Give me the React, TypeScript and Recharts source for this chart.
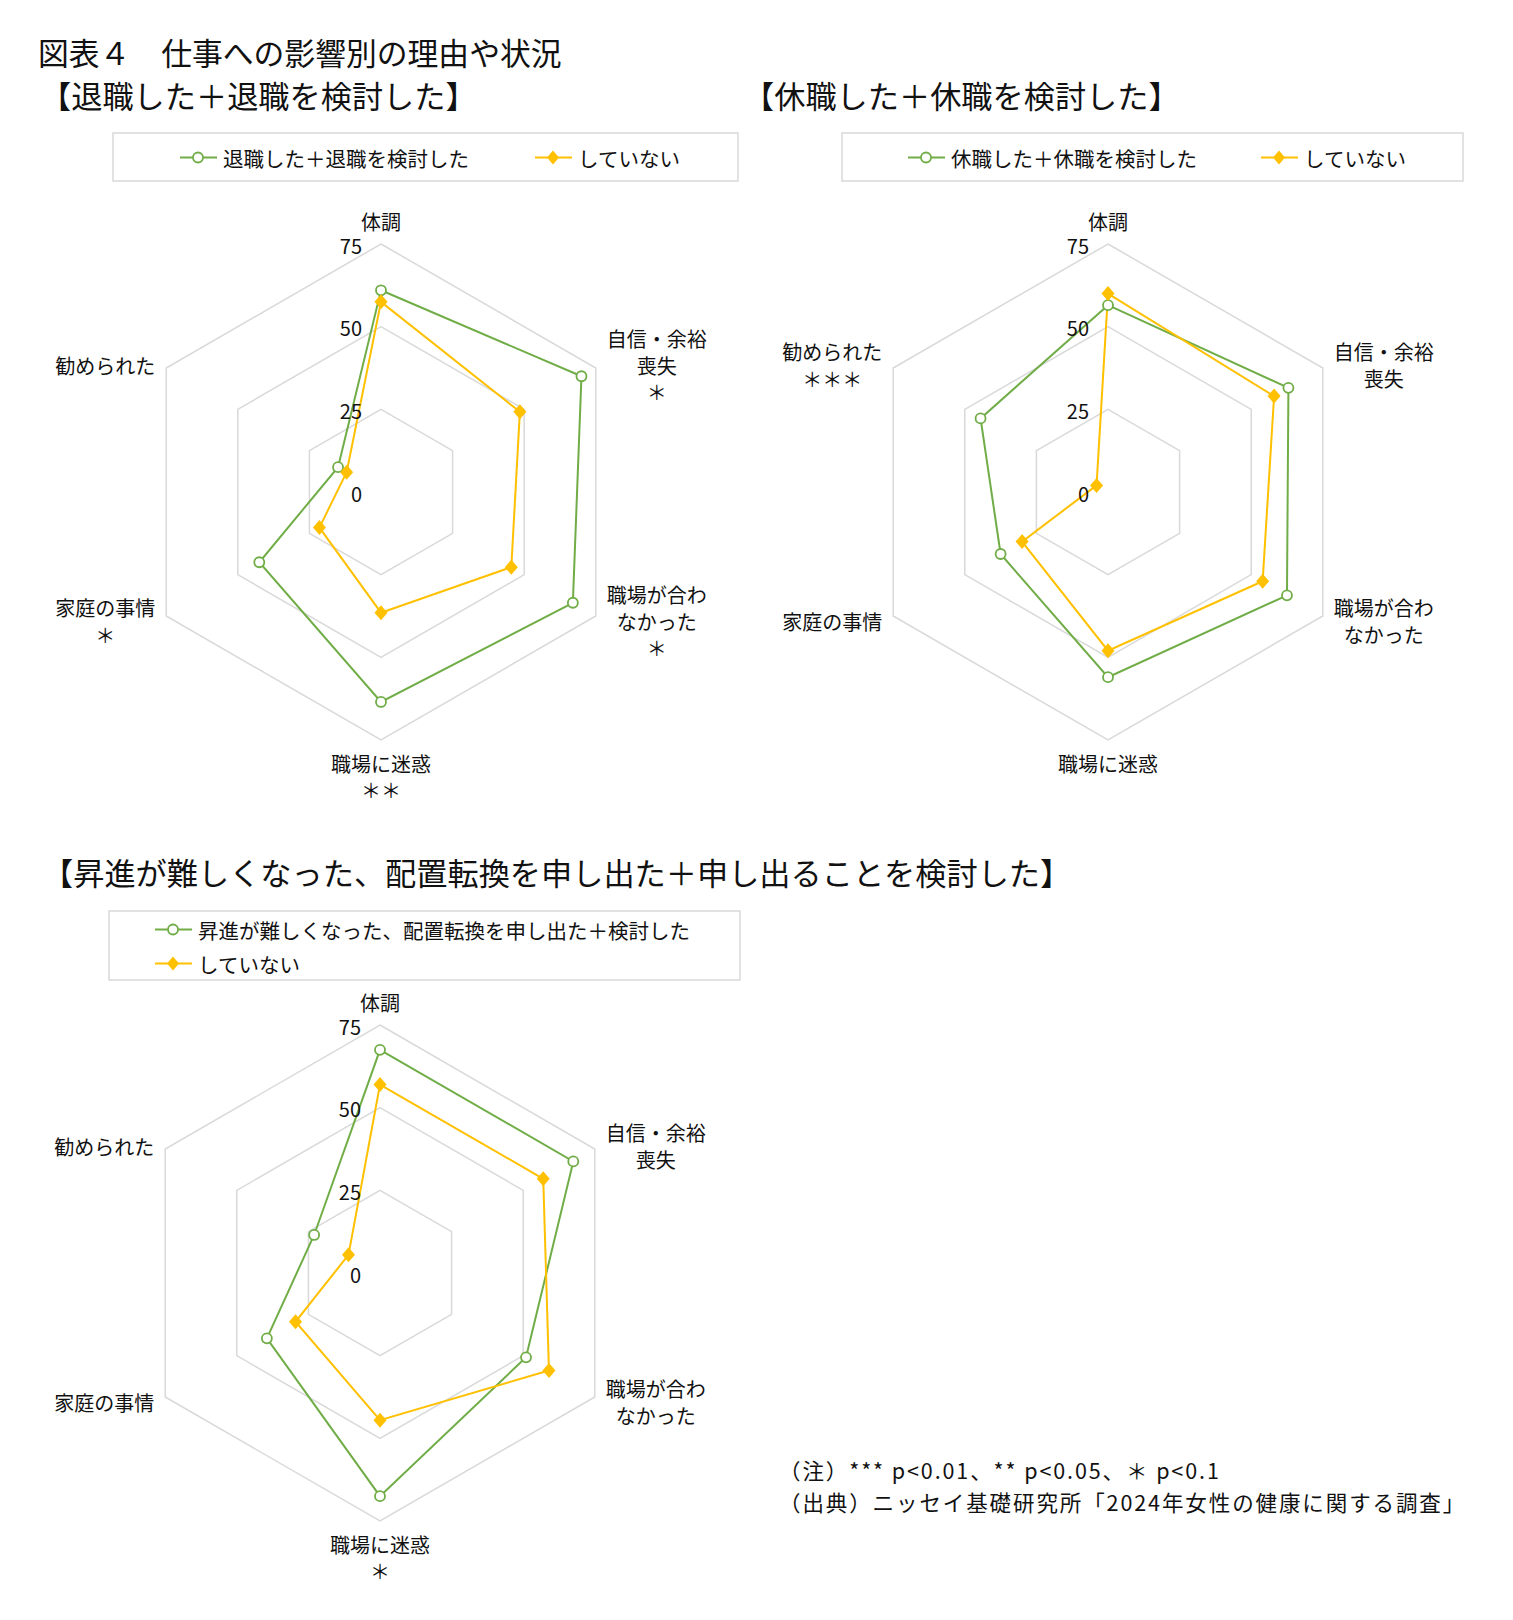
import React from "react";
import {
	RadarChart,
	Radar,
	PolarGrid,
	PolarAngleAxis,
	PolarRadiusAxis,
} from "recharts";

const GREEN = "#70AD47";
const GOLD = "#FFC000";
const GRID = "#D9D9D9";
const FONT = "'Noto Sans CJK JP', 'Noto Sans', sans-serif";

// axis categories, clockwise from the top
const categories = ["体調", "自信・余裕喪失", "職場が合わなかった", "職場に迷惑", "家庭の事情", "勧められた"];
const categoryLines = [
	["体調"],
	["自信・余裕", "喪失"],
	["職場が合わ", "なかった"],
	["職場に迷惑"],
	["家庭の事情"],
	["勧められた"],
];
const radiusTicks = [0, 25, 50, 75];
const noneLabel = "していない";

// 退職
const retireLabel = "退職した＋退職を検討した";
const retireYes = [61, 70, 67, 63.5, 42.5, 15];
const retireNo = [57.5, 48.5, 45.5, 36.5, 21.5, 12];
const retireStars = ["", "＊", "＊", "＊＊", "＊", ""];

// 休職
const leaveLabel = "休職した＋休職を検討した";
const leaveYes = [56.5, 63, 62.5, 56, 37.5, 44.5];
const leaveNo = [60, 58, 54, 48, 30, 4];
const leaveStars = ["", "", "", "", "", "＊＊＊"];

// 昇進・配置転換
const promoLabel = "昇進が難しくなった、配置転換を申し出た＋検討した";
const promoYes = [67.5, 67.5, 51, 67.5, 39.5, 23];
const promoNo = [57, 57, 59, 44.5, 29.5, 11];
const promoStars = ["", "", "", "＊", "", ""];

const notes = [
	"（注）*** p<0.01、** p<0.05、＊ p<0.1",
	"（出典）ニッセイ基礎研究所「2024年女性の健康に関する調査」",
];

const buildData = (yes: number[], no: number[]) =>
	categories.map((category, i) => ({ category, yes: yes[i], no: no[i] }));

const makeAngleTick = (stars: string[]) => (props: any) => {
	const { x, y, payload } = props;
	const i = categories.indexOf(payload.value);
	const lines = stars[i] ? [...categoryLines[i], stars[i]] : categoryLines[i];
	const step = 26.5;
	let tx = x;
	let firstY = y;
	if (i === 0) {
		firstY = y - 15 - (lines.length - 1) * step;
	} else if (i === 3) {
		firstY = y + 15;
	} else {
		tx = i < 3 ? x + 54 : x - 54;
		firstY = y + 1 - ((lines.length - 1) * step) / 2;
	}
	return (
		<g>
			{lines.map((line, k) => (
				<text
					key={k}
					x={tx}
					y={firstY + k * step}
					textAnchor="middle"
					dominantBaseline="central"
					fontSize={20}
					fontFamily={FONT}
					fill="#111"
				>
					{line}
				</text>
			))}
		</g>
	);
};

const radiusTick = (props: any) => (
	<text
		x={props.x - 19}
		y={props.y + 1}
		textAnchor="end"
		dominantBaseline="central"
		fontSize={20}
		fontFamily={FONT}
		fill="#111"
	>
		{props.payload.value}
	</text>
);

const circleDot = (props: any) => (
	<circle
		key={`c-${props.cx}-${props.cy}`}
		cx={props.cx}
		cy={props.cy}
		r={5}
		fill="#fff"
		stroke={GREEN}
		strokeWidth={1.8}
	/>
);

const diamondDot = (props: any) => (
	<path
		key={`d-${props.cx}-${props.cy}`}
		d={`M${props.cx},${props.cy - 7.5}L${props.cx + 6.5},${props.cy}L${props.cx},${props.cy + 7.5}L${props.cx - 6.5},${props.cy}Z`}
		fill={GOLD}
	/>
);

type RadarProps = {
	left: number;
	top: number;
	cx: number;
	cy: number;
	yes: number[];
	no: number[];
	yesName: string;
	stars: string[];
};

const Hexagon = ({ left, top, cx, cy, yes, no, yesName, stars }: RadarProps) => (
	<div style={{ position: "absolute", left, top }}>
		<RadarChart
			width={760}
			height={640}
			cx={cx}
			cy={cy}
			outerRadius={248}
			data={buildData(yes, no)}
			margin={{ top: 0, right: 0, bottom: 0, left: 0 }}
		>
			<PolarGrid gridType="polygon" radialLines={false} stroke={GRID} strokeWidth={1.5} />
			<PolarAngleAxis dataKey="category" tickLine={false} axisLine={false} tick={makeAngleTick(stars)} />
			<PolarRadiusAxis
				angle={90}
				type="number"
				domain={[0, 75]}
				ticks={radiusTicks as any}
				tickCount={4}
				axisLine={false}
				tick={radiusTick}
			/>
			<Radar
				name={yesName}
				dataKey="yes"
				stroke={GREEN}
				strokeWidth={2}
				fill="none"
				fillOpacity={0}
				dot={circleDot}
				isAnimationActive={false}
			/>
			<Radar
				name={noneLabel}
				dataKey="no"
				stroke={GOLD}
				strokeWidth={2}
				fill="none"
				fillOpacity={0}
				dot={diamondDot}
				isAnimationActive={false}
			/>
		</RadarChart>
	</div>
);

type LegendItem = { x: number; y: number; label: string; kind: "circle" | "diamond" };

const LegendBox = ({ x, y, w, h, items }: { x: number; y: number; w: number; h: number; items: LegendItem[] }) => (
	<g>
		<rect x={x} y={y} width={w} height={h} fill="#fff" stroke={GRID} strokeWidth={1.5} />
		{items.map((it, k) => {
			const color = it.kind === "circle" ? GREEN : GOLD;
			const mx = it.x + 18;
			return (
				<g key={k}>
					<line x1={it.x} x2={it.x + 37} y1={it.y} y2={it.y} stroke={color} strokeWidth={2} />
					{it.kind === "circle" ? (
						<circle cx={mx} cy={it.y} r={5} fill="#fff" stroke={GREEN} strokeWidth={1.8} />
					) : (
						<path d={`M${mx},${it.y - 7}L${mx + 6},${it.y}L${mx},${it.y + 7}L${mx - 6},${it.y}Z`} fill={GOLD} />
					)}
					<text
						x={it.x + 43}
						y={it.y}
						dominantBaseline="central"
						fontSize={20.5}
						fontFamily={FONT}
						fill="#111"
					>
						{it.label}
					</text>
				</g>
			);
		})}
	</g>
);

const Heading = ({ x, y, size, children }: { x: number; y: number; size: number; children: string }) => (
	<text x={x} y={y} dominantBaseline="central" fontSize={size} fontFamily={FONT} fill="#111">
		{children}
	</text>
);

export default function App() {
	return (
		<div
			style={{
				position: "absolute",
				left: 0,
				top: 0,
				width: 1513,
				height: 1620,
				background: "#fff",
				overflow: "hidden",
			}}
		>
			<svg
				width={1513}
				height={1620}
				style={{ position: "absolute", left: 0, top: 0 }}
			>
				<Heading x={38} y={51.5} size={30.8}>図表４　仕事への影響別の理由や状況</Heading>
				<Heading x={40} y={94} size={31.2}>【退職した＋退職を検討した】</Heading>
				<Heading x={743} y={94} size={31.2}>【休職した＋休職を検討した】</Heading>
				<Heading x={42} y={871} size={31.2}>【昇進が難しくなった、配置転換を申し出た＋申し出ることを検討した】</Heading>
				<LegendBox
					x={113}
					y={133}
					w={625}
					h={48}
					items={[
						{ x: 180, y: 157.5, label: retireLabel, kind: "circle" },
						{ x: 535, y: 157.5, label: noneLabel, kind: "diamond" },
					]}
				/>
				<LegendBox
					x={842}
					y={133}
					w={621}
					h={48}
					items={[
						{ x: 908, y: 157.5, label: leaveLabel, kind: "circle" },
						{ x: 1261, y: 157.5, label: noneLabel, kind: "diamond" },
					]}
				/>
				<LegendBox
					x={109}
					y={911}
					w={631}
					h={69}
					items={[
						{ x: 155, y: 929.5, label: promoLabel, kind: "circle" },
						{ x: 155, y: 963.5, label: noneLabel, kind: "diamond" },
					]}
				/>
				{notes.map((note, k) => (
					<text
						key={k}
						x={779}
						y={1469.5 + k * 31.5}
						dominantBaseline="central"
						fontSize={21.5}
						letterSpacing={1.9}
						fontFamily={FONT}
						fill="#111"
					>
						{note}
					</text>
				))}
			</svg>
			<Hexagon left={0} top={190} cx={381} cy={302} yes={retireYes} no={retireNo} yesName={retireLabel} stars={retireStars} />
			<Hexagon left={740} top={190} cx={368} cy={302} yes={leaveYes} no={leaveNo} yesName={leaveLabel} stars={leaveStars} />
			<Hexagon left={0} top={980} cx={380} cy={293} yes={promoYes} no={promoNo} yesName={promoLabel} stars={promoStars} />
		</div>
	);
}
